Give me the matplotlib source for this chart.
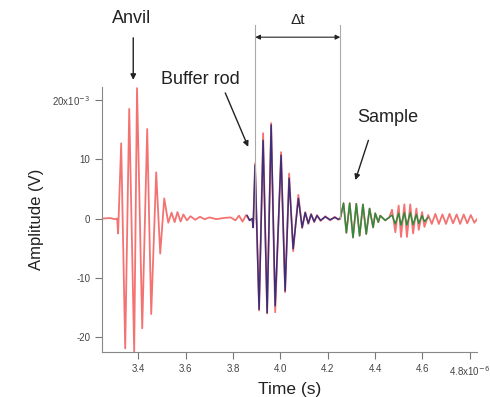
import numpy as np
import matplotlib
matplotlib.use("Agg")
import matplotlib.pyplot as plt

# time in microseconds, amplitude in mV (extrema)
red_t = [3.246, 3.28, 3.30, 3.31, 3.314, 3.327, 3.344, 3.361, 3.382, 3.394, 3.416, 3.437,
         3.454, 3.475, 3.492, 3.509, 3.526, 3.54, 3.553, 3.565, 3.578, 3.59, 3.605, 3.62,
         3.64, 3.66, 3.68, 3.70, 3.73, 3.76, 3.79, 3.81, 3.825, 3.84, 3.855, 3.87,
         3.881, 3.885, 3.893, 3.910, 3.927, 3.944, 3.961, 3.978, 4.003, 4.020, 4.037,
         4.054, 4.076, 4.092, 4.105, 4.118, 4.13, 4.143, 4.155, 4.17, 4.19, 4.21, 4.23,
         4.245, 4.253, 4.267, 4.279, 4.293, 4.307, 4.321, 4.335, 4.349, 4.363, 4.377,
         4.392, 4.401, 4.414, 4.422, 4.443, 4.46, 4.472, 4.486, 4.500, 4.510, 4.524,
         4.535, 4.549, 4.561, 4.575, 4.585, 4.599, 4.609, 4.625, 4.64, 4.655, 4.67,
         4.685, 4.70, 4.715, 4.73, 4.745, 4.76, 4.775, 4.79, 4.805, 4.82, 4.833]
red_v = [0.0, 0.1, -0.1, 0.0, -2.5, 12.7, -21.9, 18.5, -22.4, 22.0, -18.5, 15.1,
         -16.1, 7.8, -5.9, 3.4, -0.7, 1.0, -0.6, 1.1, -0.5, 0.7, -0.3, 0.4,
         -0.2, 0.3, -0.1, 0.2, -0.1, 0.1, 0.2, -0.3, 0.5, -0.5, 0.6, -0.3,
         0.0, -1.5, 9.3, -15.5, 14.4, -16.0, 16.1, -15.8, 11.2, -12.4, 7.6,
         -5.5, 4.0, -1.6, 1.1, -0.9, 0.8, -0.6, 0.6, -0.4, 0.4, -0.3, 0.3,
         -0.2, 0.0, 2.6, -2.4, 2.6, -3.2, 2.5, -2.9, 2.4, -2.6, 1.7,
         -1.5, 0.9, -0.6, 0.5, -0.3, 0.2, 1.5, -2.3, 2.2, -3.1, 2.4,
         -3.1, 2.4, -2.5, 1.7, -1.9, 1.1, -1.4, 0.6, -0.9, 0.8, -0.9,
         0.7, -0.9, 0.8, -0.8, 0.7, -0.9, 0.7, -0.8, 0.6, -0.7, 0.0]

blue_t = [3.86, 3.87, 3.881, 3.885, 3.893, 3.910, 3.927, 3.944, 3.961, 3.978, 4.003,
          4.020, 4.037, 4.054, 4.076, 4.092, 4.105, 4.118, 4.13, 4.143, 4.155, 4.17,
          4.19, 4.21, 4.23, 4.245, 4.253]
blue_v = [0.5, -0.3, 0.0, -1.5, 9.0, -15.3, 13.2, -15.9, 15.8, -14.7, 10.7,
          -12.2, 6.8, -5.1, 3.4, -1.5, 1.0, -0.8, 0.7, -0.5, 0.5, -0.3,
          0.3, -0.2, 0.2, -0.1, 0.0]

green_t = [4.253, 4.267, 4.279, 4.293, 4.307, 4.321, 4.335, 4.349, 4.363, 4.377, 4.392,
           4.401, 4.414, 4.422, 4.443, 4.46, 4.472, 4.486, 4.500, 4.510, 4.524, 4.535,
           4.549, 4.561, 4.575, 4.585, 4.599, 4.609, 4.625]
green_v = [0.0, 2.6, -2.4, 2.6, -3.2, 2.5, -2.9, 2.4, -2.6, 1.7, -1.5,
           0.9, -0.6, 0.5, -0.3, 0.2, 0.6, -0.9, 0.9, -1.1, 1.0, -1.1,
           1.0, -1.0, 0.7, -0.8, 0.5, -0.5, 0.2]

x_ticks = [3.4, 3.6, 3.8, 4.0, 4.2, 4.4, 4.6, 4.8]
x_labels = ["3.4", "3.6", "3.8", "4.0", "4.2", "4.4", "4.6", "4.8x10$^{-6}$"]
y_ticks = [-20, -10, 0, 10, 20]
y_labels = ["-20", "-10", "0", "10", "20x10$^{-3}$"]

dt_start, dt_end = 3.894, 4.253

plt.rcParams['font.family'] = ['Liberation Sans', 'DejaVu Sans']

fig = plt.figure(figsize=(4.9, 3.97), dpi=100)
ax = fig.add_axes([0.2082, 0.1134, 0.7647, 0.6675])

ax.plot(red_t, red_v, color='#f26464', lw=1.3, alpha=0.9)
ax.plot(blue_t, blue_v, color='#3b2f7a', lw=1.1)
ax.plot(green_t, green_v, color='#2e8b3e', lw=1.1)

ax.set_xlim(3.246, 4.83)
ax.set_ylim(-22.5, 22.2)
ax.set_xticks(x_ticks)
ax.set_xticklabels(x_labels)
ax.set_yticks(y_ticks)
ax.set_yticklabels(y_labels)
ax.tick_params(direction='out', length=5, width=0.8, colors='#777777',
               labelsize=7, labelcolor='#444444')

for s in ['top', 'right']:
    ax.spines[s].set_visible(False)
for s in ['left', 'bottom']:
    ax.spines[s].set_color('#888888')
    ax.spines[s].set_linewidth(0.8)

ax.set_xlabel("Time (s)", fontsize=12.5, color='#222222', labelpad=3)
ax.set_ylabel("Amplitude (V)", fontsize=12, color='#222222', labelpad=6)

# delta t markers
for xv in (dt_start, dt_end):
    ax.plot([xv, xv], [0, 32.7], color='#aaaaaa', lw=0.8, clip_on=False)
ax.annotate("", xy=(dt_start, 30.6), xytext=(dt_end, 30.6), annotation_clip=False,
            arrowprops=dict(arrowstyle='<|-|>', color='#222222', lw=0.8, mutation_scale=7,
                            shrinkA=0, shrinkB=0))
ax.text((dt_start + dt_end) / 2, 32.3, "Δt", ha='center', va='bottom', fontsize=11,
        color='#222222', clip_on=False)

arrow = dict(arrowstyle='-|>', color='#222222', lw=1.0, mutation_scale=8, shrinkA=0, shrinkB=0)
ax.annotate("", xy=(3.378, 23.4), xytext=(3.378, 30.5), annotation_clip=False, arrowprops=arrow)
ax.text(3.373, 33.7, "Anvil", ha='center', va='center', fontsize=13, color='#222222')

ax.annotate("", xy=(3.864, 12.1), xytext=(3.767, 21.2), annotation_clip=False, arrowprops=arrow)
ax.text(3.662, 23.5, "Buffer rod", ha='center', va='center', fontsize=13, color='#222222')

ax.annotate("", xy=(4.317, 6.5), xytext=(4.372, 13.2), annotation_clip=False, arrowprops=arrow)
ax.text(4.456, 17.0, "Sample", ha='center', va='center', fontsize=13, color='#222222')

fig.savefig("out.png", dpi=100)
